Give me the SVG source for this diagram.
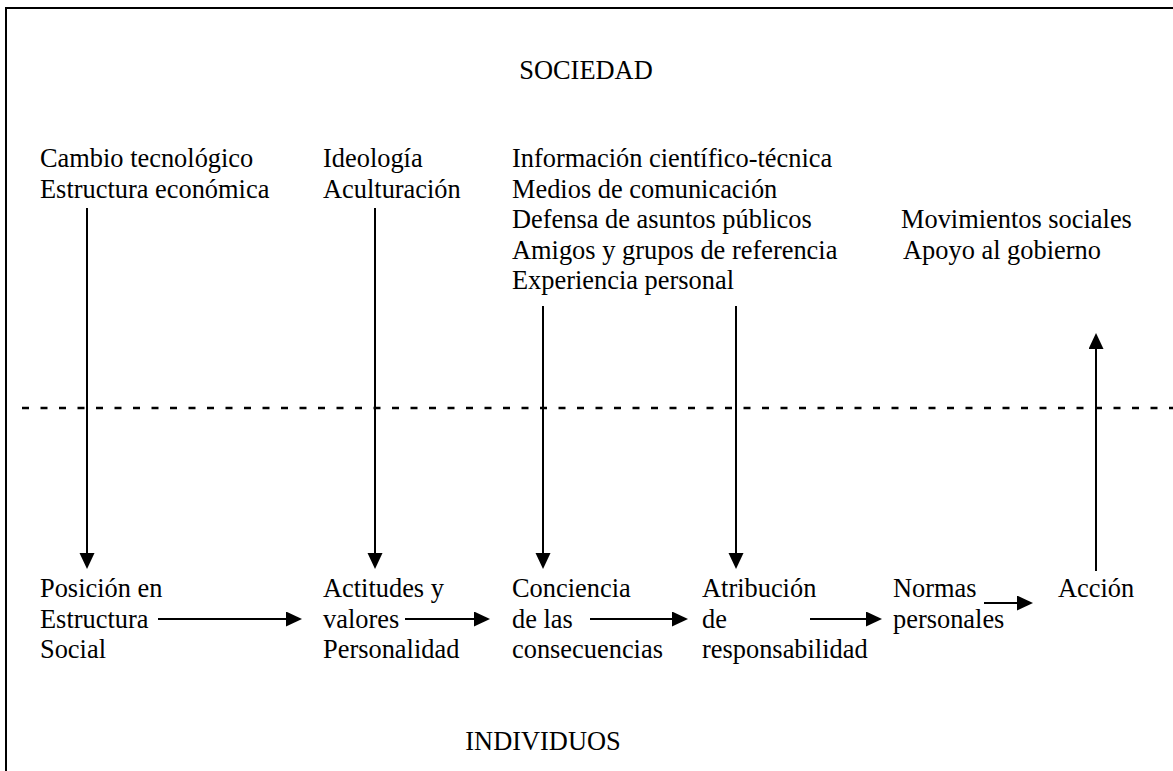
<svg xmlns="http://www.w3.org/2000/svg" width="1173" height="771" viewBox="0 0 1173 771">
<style>
text{font-family:"Liberation Serif","Times New Roman",serif;font-size:26.4px;fill:#000}
.c{text-anchor:middle}
.ln{stroke:#000;stroke-width:2;fill:none}
.dash{stroke:#000;stroke-width:2.5;stroke-dasharray:7 11.5;fill:none}
</style>
<defs>
<marker id="ah" markerUnits="userSpaceOnUse" markerWidth="17" markerHeight="16" refX="4" refY="7.5" orient="auto">
<path d="M0,0 L16,7.5 L0,15 z" fill="#000"/>
</marker>
</defs>
<rect width="1173" height="771" fill="#fff"/>
<g id="frame">
<path class="ln" d="M6,771 V8 H1173"/>
<path class="dash" d="M22,408 H1173"/>
</g>
<g id="sociedad"><text class="c" x="586" y="79">SOCIEDAD</text></g>
<g id="individuos"><text class="c" x="543" y="750">INDIVIDUOS</text></g>
<g id="n-cambio"><text x="40" y="167">Cambio tecnológico</text><text x="40" y="197.5">Estructura económica</text></g>
<g id="n-ideologia"><text x="323" y="167">Ideología</text><text x="323" y="197.5">Aculturación</text></g>
<g id="n-informacion"><text x="512" y="167">Información científico-técnica</text><text x="512" y="197.5">Medios de comunicación</text><text x="512" y="228">Defensa de asuntos públicos</text><text x="512" y="258.5">Amigos y grupos de referencia</text><text x="512" y="289">Experiencia personal</text></g>
<g id="n-movimientos"><text x="901" y="228">Movimientos sociales</text><text x="903" y="258.5">Apoyo al gobierno</text></g>
<g id="n-posicion"><text x="40" y="597">Posición en</text><text x="40" y="627.5">Estructura</text><text x="40" y="658">Social</text></g>
<g id="n-actitudes"><text x="323" y="597">Actitudes y</text><text x="323" y="627.5">valores</text><text x="323" y="658">Personalidad</text></g>
<g id="n-conciencia"><text x="512" y="597">Conciencia</text><text x="512" y="627.5">de las</text><text x="512" y="658">consecuencias</text></g>
<g id="n-atribucion"><text x="702" y="597">Atribución</text><text x="702" y="627.5">de</text><text x="702" y="658">responsabilidad</text></g>
<g id="n-normas"><text x="893" y="597">Normas</text><text x="893" y="627.5">personales</text></g>
<g id="n-accion"><text x="1058" y="597">Acción</text></g>
<g id="connectors">
<path class="ln" d="M87,208 V557" marker-end="url(#ah)"/>
<path class="ln" d="M375,208 V557" marker-end="url(#ah)"/>
<path class="ln" d="M543,306 V557" marker-end="url(#ah)"/>
<path class="ln" d="M736,306 V557" marker-end="url(#ah)"/>
<path class="ln" d="M1096,571 V345" marker-end="url(#ah)"/>
<path class="ln" d="M158,619 H290" marker-end="url(#ah)"/>
<path class="ln" d="M405,619 H478" marker-end="url(#ah)"/>
<path class="ln" d="M590,619 H676" marker-end="url(#ah)"/>
<path class="ln" d="M810,619 H870" marker-end="url(#ah)"/>
<path class="ln" d="M984,603 H1021" marker-end="url(#ah)"/>
</g>
</svg>
